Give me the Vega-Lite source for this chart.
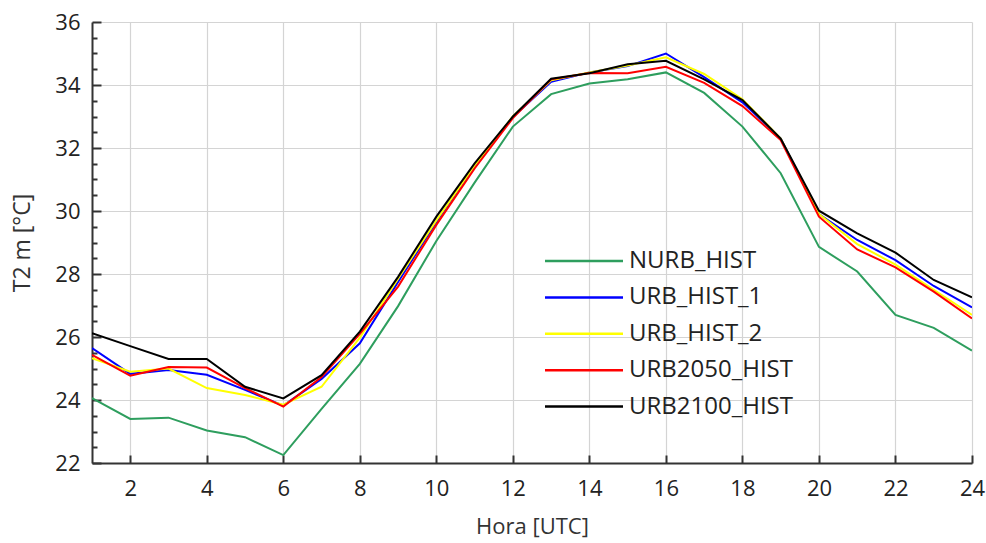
{
  "$schema": "https://vega.github.io/schema/vega-lite/v6.json",
  "autosize": {"type": "none"},
  "width": 880,
  "height": 441,
  "padding": {"left": 92, "top": 22, "right": 14, "bottom": 80},
  "background": "white",
  "config": {
    "font": "Open Sans",
    "view": {"stroke": null},
    "axis": {"labelFont": "Open Sans", "titleFont": "Open Sans", "labelColor": "#222", "titleColor": "#333", "titleFontWeight": "normal"}
  },
  "data": {
    "values": [
      {"hour":1,"series":"NURB_HIST","temp":24.06},{"hour":2,"series":"NURB_HIST","temp":23.4},{"hour":3,"series":"NURB_HIST","temp":23.44},{"hour":4,"series":"NURB_HIST","temp":23.03},{"hour":5,"series":"NURB_HIST","temp":22.82},{"hour":6,"series":"NURB_HIST","temp":22.25},{"hour":7,"series":"NURB_HIST","temp":23.72},{"hour":8,"series":"NURB_HIST","temp":25.15},{"hour":9,"series":"NURB_HIST","temp":26.98},{"hour":10,"series":"NURB_HIST","temp":29.05},{"hour":11,"series":"NURB_HIST","temp":30.9},{"hour":12,"series":"NURB_HIST","temp":32.68},{"hour":13,"series":"NURB_HIST","temp":33.71},{"hour":14,"series":"NURB_HIST","temp":34.05},{"hour":15,"series":"NURB_HIST","temp":34.18},{"hour":16,"series":"NURB_HIST","temp":34.4},{"hour":17,"series":"NURB_HIST","temp":33.75},{"hour":18,"series":"NURB_HIST","temp":32.68},{"hour":19,"series":"NURB_HIST","temp":31.2},{"hour":20,"series":"NURB_HIST","temp":28.86},{"hour":21,"series":"NURB_HIST","temp":28.08},{"hour":22,"series":"NURB_HIST","temp":26.7},{"hour":23,"series":"NURB_HIST","temp":26.29},{"hour":24,"series":"NURB_HIST","temp":25.57},
      {"hour":1,"series":"URB_HIST_1","temp":25.65},{"hour":2,"series":"URB_HIST_1","temp":24.83},{"hour":3,"series":"URB_HIST_1","temp":24.95},{"hour":4,"series":"URB_HIST_1","temp":24.8},{"hour":5,"series":"URB_HIST_1","temp":24.32},{"hour":6,"series":"URB_HIST_1","temp":23.82},{"hour":7,"series":"URB_HIST_1","temp":24.67},{"hour":8,"series":"URB_HIST_1","temp":25.8},{"hour":9,"series":"URB_HIST_1","temp":27.75},{"hour":10,"series":"URB_HIST_1","temp":29.65},{"hour":11,"series":"URB_HIST_1","temp":31.45},{"hour":12,"series":"URB_HIST_1","temp":32.98},{"hour":13,"series":"URB_HIST_1","temp":34.1},{"hour":14,"series":"URB_HIST_1","temp":34.4},{"hour":15,"series":"URB_HIST_1","temp":34.6},{"hour":16,"series":"URB_HIST_1","temp":35.0},{"hour":17,"series":"URB_HIST_1","temp":34.25},{"hour":18,"series":"URB_HIST_1","temp":33.45},{"hour":19,"series":"URB_HIST_1","temp":32.3},{"hour":20,"series":"URB_HIST_1","temp":29.9},{"hour":21,"series":"URB_HIST_1","temp":29.08},{"hour":22,"series":"URB_HIST_1","temp":28.44},{"hour":23,"series":"URB_HIST_1","temp":27.62},{"hour":24,"series":"URB_HIST_1","temp":26.94},
      {"hour":1,"series":"URB_HIST_2","temp":25.33},{"hour":2,"series":"URB_HIST_2","temp":24.9},{"hour":3,"series":"URB_HIST_2","temp":25.0},{"hour":4,"series":"URB_HIST_2","temp":24.38},{"hour":5,"series":"URB_HIST_2","temp":24.16},{"hour":6,"series":"URB_HIST_2","temp":23.85},{"hour":7,"series":"URB_HIST_2","temp":24.42},{"hour":8,"series":"URB_HIST_2","temp":25.98},{"hour":9,"series":"URB_HIST_2","temp":27.85},{"hour":10,"series":"URB_HIST_2","temp":29.7},{"hour":11,"series":"URB_HIST_2","temp":31.45},{"hour":12,"series":"URB_HIST_2","temp":33.0},{"hour":13,"series":"URB_HIST_2","temp":34.15},{"hour":14,"series":"URB_HIST_2","temp":34.4},{"hour":15,"series":"URB_HIST_2","temp":34.62},{"hour":16,"series":"URB_HIST_2","temp":34.88},{"hour":17,"series":"URB_HIST_2","temp":34.35},{"hour":18,"series":"URB_HIST_2","temp":33.55},{"hour":19,"series":"URB_HIST_2","temp":32.3},{"hour":20,"series":"URB_HIST_2","temp":29.9},{"hour":21,"series":"URB_HIST_2","temp":28.95},{"hour":22,"series":"URB_HIST_2","temp":28.3},{"hour":23,"series":"URB_HIST_2","temp":27.5},{"hour":24,"series":"URB_HIST_2","temp":26.7},
      {"hour":1,"series":"URB2050_HIST","temp":25.43},{"hour":2,"series":"URB2050_HIST","temp":24.77},{"hour":3,"series":"URB2050_HIST","temp":25.05},{"hour":4,"series":"URB2050_HIST","temp":25.03},{"hour":5,"series":"URB2050_HIST","temp":24.38},{"hour":6,"series":"URB2050_HIST","temp":23.79},{"hour":7,"series":"URB2050_HIST","temp":24.73},{"hour":8,"series":"URB2050_HIST","temp":26.1},{"hour":9,"series":"URB2050_HIST","temp":27.6},{"hour":10,"series":"URB2050_HIST","temp":29.56},{"hour":11,"series":"URB2050_HIST","temp":31.35},{"hour":12,"series":"URB2050_HIST","temp":32.95},{"hour":13,"series":"URB2050_HIST","temp":34.18},{"hour":14,"series":"URB2050_HIST","temp":34.38},{"hour":15,"series":"URB2050_HIST","temp":34.37},{"hour":16,"series":"URB2050_HIST","temp":34.58},{"hour":17,"series":"URB2050_HIST","temp":34.07},{"hour":18,"series":"URB2050_HIST","temp":33.33},{"hour":19,"series":"URB2050_HIST","temp":32.25},{"hour":20,"series":"URB2050_HIST","temp":29.82},{"hour":21,"series":"URB2050_HIST","temp":28.78},{"hour":22,"series":"URB2050_HIST","temp":28.21},{"hour":23,"series":"URB2050_HIST","temp":27.44},{"hour":24,"series":"URB2050_HIST","temp":26.59},
      {"hour":1,"series":"URB2100_HIST","temp":26.12},{"hour":2,"series":"URB2100_HIST","temp":25.71},{"hour":3,"series":"URB2100_HIST","temp":25.3},{"hour":4,"series":"URB2100_HIST","temp":25.3},{"hour":5,"series":"URB2100_HIST","temp":24.42},{"hour":6,"series":"URB2100_HIST","temp":24.05},{"hour":7,"series":"URB2100_HIST","temp":24.79},{"hour":8,"series":"URB2100_HIST","temp":26.17},{"hour":9,"series":"URB2100_HIST","temp":27.91},{"hour":10,"series":"URB2100_HIST","temp":29.82},{"hour":11,"series":"URB2100_HIST","temp":31.51},{"hour":12,"series":"URB2100_HIST","temp":33.0},{"hour":13,"series":"URB2100_HIST","temp":34.2},{"hour":14,"series":"URB2100_HIST","temp":34.37},{"hour":15,"series":"URB2100_HIST","temp":34.66},{"hour":16,"series":"URB2100_HIST","temp":34.77},{"hour":17,"series":"URB2100_HIST","temp":34.18},{"hour":18,"series":"URB2100_HIST","temp":33.52},{"hour":19,"series":"URB2100_HIST","temp":32.3},{"hour":20,"series":"URB2100_HIST","temp":30.01},{"hour":21,"series":"URB2100_HIST","temp":29.29},{"hour":22,"series":"URB2100_HIST","temp":28.68},{"hour":23,"series":"URB2100_HIST","temp":27.81},{"hour":24,"series":"URB2100_HIST","temp":27.26}
    ]
  },
  "mark": {"type": "line", "strokeWidth": 2, "clip": true},
  "encoding": {
    "x": {
      "field": "hour", "type": "quantitative",
      "scale": {"domain": [1, 24], "nice": false, "zero": false},
      "axis": {
        "title": "Hora [UTC]", "titleFontSize": 22, "titlePadding": 17,
        "values": [2,4,6,8,10,12,14,16,18,20,22,24],
        "labelFontSize": 22, "labelPadding": 23, "labelFlush": false,
        "tickSize": -8, "tickWidth": 2, "tickColor": "#333",
        "domainColor": "#333", "domainWidth": 2,
        "grid": true, "gridColor": "#d4d4d4", "gridWidth": 1.2
      }
    },
    "y": {
      "field": "temp", "type": "quantitative",
      "scale": {"domain": [22, 36], "nice": false, "zero": false},
      "axis": {
        "title": "T2 m [°C]", "titleFontSize": 23, "titlePadding": 20,
        "values": [22,22.5,23,23.5,24,24.5,25,25.5,26,26.5,27,27.5,28,28.5,29,29.5,30,30.5,31,31.5,32,32.5,33,33.5,34,34.5,35,35.5,36],
        "labelExpr": "datum.value % 2 === 0 ? format(datum.value, 'd') : ''",
        "labelFontSize": 22, "labelPadding": 21, "labelFlush": false,
        "tickSize": {"condition": {"test": "datum.value % 2 === 0", "value": -9}, "value": -5},
        "tickWidth": 2, "tickColor": "#333",
        "domainColor": "#333", "domainWidth": 2,
        "grid": true, "gridColor": "#d4d4d4", "gridWidth": 1.2,
        "gridOpacity": {"condition": {"test": "datum.value % 2 === 0", "value": 1}, "value": 0}
      }
    },
    "color": {
      "field": "series", "type": "nominal",
      "scale": {
        "domain": ["NURB_HIST", "URB_HIST_1", "URB_HIST_2", "URB2050_HIST", "URB2100_HIST"],
        "range": ["#2e9e5e", "#0000ff", "#ffff00", "#ff0000", "#000000"]
      },
      "legend": {
        "title": null, "orient": "none", "legendX": 480, "legendY": 227,
        "symbolType": "M-3.9,0H3.9", "symbolSize": 400, "symbolStrokeWidth": 2.5,
        "labelFontSize": 24, "labelFont": "Open Sans", "labelColor": "#222",
        "labelOffset": 33, "rowPadding": 12.4, "labelLimit": 400
      }
    }
  }
}
